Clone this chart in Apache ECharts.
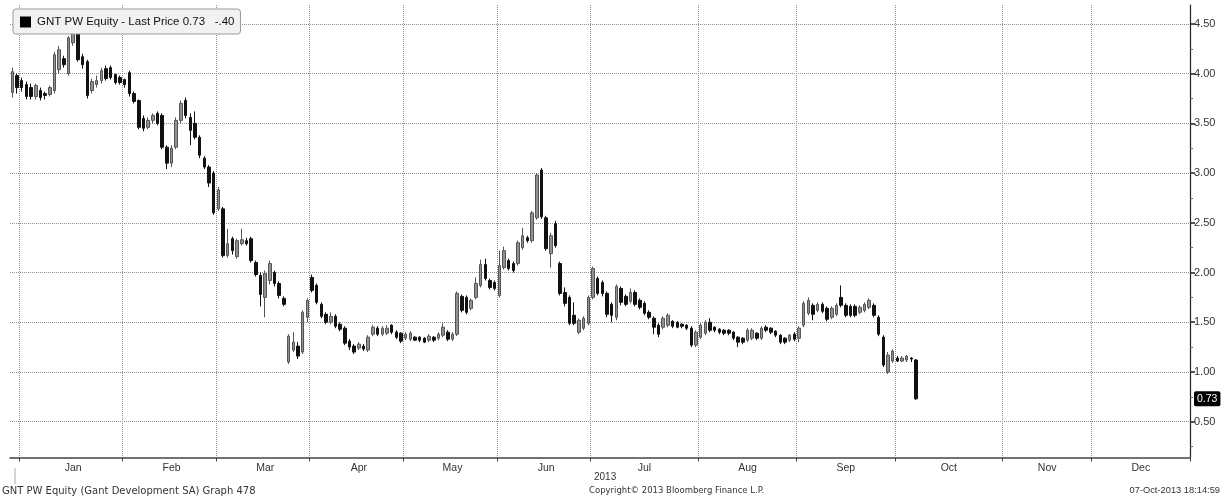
<!DOCTYPE html>
<html><head><meta charset="utf-8">
<script src="https://cdn.jsdelivr.net/npm/echarts@6/dist/echarts.min.js"></script>
<style>html,body{margin:0;padding:0;background:#fff}#c{width:1222px;height:497px}</style>
</head><body><div id="c"></div>
<script>
// ---- axis categories (trading days) ----
const leadDays = ['Dec 28', 'Dec 31'];
const monthNames = ['Jan','Feb','Mar','Apr','May','Jun','Jul','Aug','Sep','Oct','Nov','Dec'];
const tradingDaysPerMonth = [22,20,20,20,20,20,23,21,21,23,19,21];
const yearLabel = '2013';

// ---- price data (daily OHLC) ----
const opens = [
 3.81,3.98,3.93,3.89,3.86,3.77,3.83,3.80,3.79,3.83,
 4.04,4.15,4.00,4.31,4.42,4.17,4.12,3.83,3.89,3.93,
 4.05,4.06,3.99,3.96,3.94,4.01,3.80,3.73,3.55,3.46,
 3.53,3.60,3.58,3.26,3.10,3.26,3.53,3.73,3.56,3.50,
 3.36,3.15,3.06,3.00,2.64,2.64,2.17,2.34,2.16,2.29,
 2.32,2.34,2.10,1.97,1.75,1.92,2.00,1.89,1.74,1.10,
 1.22,1.26,1.20,1.55,1.95,1.87,1.68,1.58,1.50,1.56,
 1.48,1.44,1.31,1.26,1.24,1.26,1.22,1.38,1.44,1.38,
 1.39,1.47,1.40,1.39,1.34,1.33,1.35,1.35,1.34,1.32,
 1.35,1.34,1.37,1.40,1.33,1.38,1.76,1.75,1.64,1.75,
 1.87,2.08,1.92,1.90,1.77,2.05,2.12,2.09,2.09,2.25,
 2.35,2.32,2.55,3.03,2.55,2.19,2.49,2.09,1.80,1.75,
 1.57,1.40,1.44,1.49,1.75,1.94,1.90,1.79,1.68,1.55,
 1.84,1.76,1.71,1.80,1.72,1.69,1.60,1.54,1.47,1.45,
 1.47,1.51,1.50,1.48,1.47,1.44,1.27,1.35,1.39,1.50,
 1.45,1.43,1.42,1.42,1.40,1.35,1.34,1.32,1.34,1.39,
 1.34,1.45,1.44,1.41,1.37,1.34,1.32,1.38,1.34,1.47,
 1.59,1.67,1.62,1.68,1.64,1.55,1.58,1.75,1.67,1.66,
 1.66,1.60,1.62,1.65,1.67,1.55,1.35,1.00,1.11,1.14,
 1.11,1.12,1.14,1.12
];
const closes = [
 4.02,3.86,3.86,3.77,3.77,3.88,3.76,3.78,3.86,4.19,
 4.24,4.09,4.36,4.42,4.14,4.09,3.78,3.92,3.93,4.03,
 3.95,3.96,3.91,3.91,3.89,3.80,3.72,3.46,3.45,3.53,
 3.58,3.50,3.26,3.10,3.25,3.53,3.70,3.58,3.43,3.36,
 3.18,3.06,2.90,2.60,2.83,2.17,2.29,2.22,2.32,2.33,
 2.29,2.12,1.98,1.78,1.99,2.09,1.89,1.77,1.68,1.36,
 1.30,1.16,1.60,1.72,1.82,1.70,1.56,1.50,1.56,1.46,
 1.43,1.29,1.25,1.20,1.28,1.23,1.35,1.45,1.38,1.44,
 1.44,1.40,1.35,1.31,1.38,1.39,1.32,1.32,1.30,1.36,
 1.32,1.38,1.45,1.33,1.38,1.79,1.62,1.60,1.72,1.89,
 2.08,1.94,1.85,1.84,2.07,2.22,2.04,2.02,2.30,2.37,
 2.32,2.60,2.98,2.56,2.24,2.37,2.27,1.79,1.69,1.49,
 1.49,1.52,1.54,1.75,2.04,1.79,1.79,1.58,1.57,1.86,
 1.70,1.68,1.80,1.68,1.65,1.59,1.55,1.45,1.38,1.54,
 1.57,1.46,1.45,1.46,1.44,1.27,1.40,1.47,1.50,1.42,
 1.42,1.40,1.39,1.39,1.34,1.30,1.30,1.42,1.42,1.34,
 1.44,1.42,1.40,1.37,1.30,1.30,1.37,1.33,1.44,1.69,
 1.72,1.58,1.68,1.61,1.53,1.64,1.67,1.67,1.57,1.57,
 1.57,1.65,1.68,1.72,1.57,1.38,1.07,1.17,1.21,1.11,
 1.14,1.16,1.13,0.73
];
const lows = [
 3.76,3.80,3.82,3.74,3.74,3.74,3.73,3.74,3.77,3.80,
 4.00,4.06,3.98,4.28,4.12,4.05,3.75,3.80,3.86,3.90,
 3.93,3.94,3.89,3.89,3.86,3.77,3.70,3.44,3.42,3.44,
 3.50,3.48,3.24,3.04,3.06,3.24,3.50,3.55,3.28,3.34,
 3.15,3.04,2.86,2.58,2.62,2.15,2.15,2.18,2.14,2.27,
 2.27,2.10,1.96,1.66,1.55,1.88,1.86,1.74,1.66,1.08,
 1.20,1.13,1.18,1.50,1.80,1.68,1.54,1.48,1.48,1.44,
 1.41,1.27,1.22,1.18,1.22,1.21,1.20,1.36,1.36,1.36,
 1.37,1.38,1.33,1.29,1.32,1.31,1.31,1.30,1.29,1.30,
 1.30,1.32,1.35,1.31,1.31,1.36,1.60,1.58,1.62,1.73,
 1.85,1.92,1.83,1.82,1.75,2.03,2.02,2.00,2.07,2.23,
 2.30,2.30,2.53,2.54,2.22,2.05,2.25,1.77,1.66,1.47,
 1.47,1.38,1.42,1.47,1.73,1.77,1.76,1.55,1.50,1.52,
 1.67,1.66,1.69,1.66,1.63,1.57,1.53,1.38,1.35,1.43,
 1.45,1.44,1.44,1.44,1.42,1.25,1.25,1.33,1.37,1.40,
 1.40,1.38,1.37,1.37,1.32,1.25,1.28,1.30,1.32,1.32,
 1.32,1.40,1.38,1.35,1.28,1.28,1.30,1.31,1.30,1.45,
 1.57,1.52,1.60,1.59,1.51,1.53,1.56,1.65,1.55,1.55,
 1.55,1.58,1.60,1.63,1.55,1.36,1.05,0.98,1.09,1.10,
 1.10,1.10,1.10,0.72
];
const highs = [
 4.06,4.00,3.96,3.92,3.90,3.90,3.86,3.82,3.88,4.22,
 4.28,4.18,4.38,4.47,4.52,4.20,4.14,3.95,3.98,4.06,
 4.08,4.08,4.00,3.98,3.95,4.03,3.82,3.74,3.58,3.56,
 3.60,3.62,3.60,3.28,3.28,3.56,3.73,3.76,3.60,3.62,
 3.38,3.17,3.08,3.02,2.86,2.66,2.44,2.36,2.34,2.44,
 2.35,2.36,2.12,2.00,2.02,2.12,2.02,1.91,1.76,1.38,
 1.40,1.30,1.62,1.74,1.98,1.89,1.70,1.60,1.60,1.58,
 1.50,1.46,1.33,1.28,1.30,1.28,1.37,1.47,1.46,1.46,
 1.47,1.48,1.42,1.40,1.40,1.41,1.36,1.36,1.35,1.38,
 1.36,1.40,1.49,1.42,1.40,1.81,1.78,1.77,1.74,1.95,
 2.13,2.14,1.94,1.92,2.22,2.26,2.14,2.11,2.32,2.45,
 2.37,2.62,3.00,3.05,2.57,2.40,2.52,2.11,1.85,1.77,
 1.70,1.54,1.56,1.77,2.06,1.96,1.92,1.81,1.70,1.88,
 1.86,1.78,1.84,1.82,1.74,1.71,1.62,1.56,1.49,1.56,
 1.59,1.52,1.51,1.49,1.48,1.46,1.42,1.49,1.52,1.54,
 1.46,1.44,1.43,1.43,1.41,1.36,1.35,1.44,1.44,1.40,
 1.46,1.47,1.45,1.42,1.38,1.35,1.38,1.40,1.46,1.71,
 1.75,1.69,1.70,1.70,1.66,1.66,1.69,1.87,1.69,1.68,
 1.68,1.67,1.70,1.74,1.69,1.57,1.37,1.20,1.23,1.16,
 1.16,1.17,1.15,1.13
];
const yTickValues = [0.5,1.0,1.5,2.0,2.5,3.0,3.5,4.0,4.5];
const yMinorTickValues = [0.25,0.75,1.25,1.75,2.25,2.75,3.25,3.75,4.25];
const lastPrice = 0.73;
const priceChange = '-.40';
const seriesName = 'GNT PW Equity';

// ---- build categories ----
const categories = leadDays.slice();
const monthStartIdx = {};
const monthMidIdx = {};
monthNames.forEach((m, k) => {
  const start = categories.length;
  const n = tradingDaysPerMonth[k];
  monthStartIdx[start] = m;
  monthMidIdx[start + Math.floor(n / 2)] = m;
  for (let d = 1; d <= n; d++) categories.push(m + ' ' + d);
});
const ohlc = opens.map((o, i) => [o, closes[i], lows[i], highs[i]]);

const FONT = 'Liberation Sans';
const chart = echarts.init(document.getElementById('c'), null, {renderer: 'canvas'});
chart.setOption({
  animation: false,
  backgroundColor: '#ffffff',
  grid: {left: 10, right: 32, top: 5, bottom: 39.5, containLabel: false},
  legend: {
    left: 13, top: 9,
    data: [{name: seriesName, icon: 'rect', itemStyle: {color: '#000', borderColor: '#000'}}],
    itemWidth: 9, itemHeight: 9, itemGap: 0,
    padding: [7, 6, 6, 7],
    backgroundColor: '#f2f2f2', borderColor: '#9a9a9a', borderWidth: 1, borderRadius: 3,
    selectedMode: false,
    textStyle: {fontFamily: FONT, fontSize: 11.5, color: '#111', padding: [0, 0, 0, 2]},
    formatter: name => name + ' - Last Price ' + lastPrice.toFixed(2) + '   ' + priceChange
  },
  xAxis: {
    type: 'category',
    data: categories,
    boundaryGap: true,
    axisLine: {show: true, lineStyle: {color: '#444', width: 1.5}},
    axisTick: {show: true, interval: (i) => (i in monthStartIdx), length: 4, lineStyle: {color: '#444'}},
    axisLabel: {
      interval: (i) => (i in monthMidIdx),
      formatter: (v) => v.split(' ')[0],
      fontFamily: FONT, fontSize: 10.5, color: '#333', margin: 5
    },
    splitLine: {show: true, interval: (i) => (i in monthStartIdx), lineStyle: {type: 'dotted', color: '#8f8f8f', width: 1}}
  },
  yAxis: [{
    type: 'value', position: 'right', min: 0.14, max: 4.69, scale: true,
    axisLine: {show: true, lineStyle: {color: '#222', width: 1.2}},
    axisTick: {show: true, customValues: yTickValues, length: 5, lineStyle: {color: '#222', width: 1.5}},
    axisLabel: {customValues: yTickValues, formatter: (v) => v.toFixed(2), fontFamily: FONT, fontSize: 11, color: '#333', margin: 4},
    splitLine: {show: true, lineStyle: {type: 'dotted', color: '#8f8f8f', width: 1}}
  }, {
    type: 'value', position: 'right', min: 0.14, max: 4.69,
    axisLine: {show: false},
    axisTick: {show: true, customValues: yMinorTickValues, length: 3, lineStyle: {color: '#666'}},
    axisLabel: {show: false},
    splitLine: {show: false}
  }],
  series: [{
    name: seriesName,
    type: 'candlestick',
    data: ohlc,
    barWidth: 3,
    itemStyle: {color: '#909090', color0: '#111111', borderColor: '#555555', borderColor0: '#111111', borderWidth: 1},
    markLine: {
      silent: true, symbol: ['none', 'none'],
      lineStyle: {color: 'rgba(0,0,0,0)', width: 0},
      label: {show: true, position: 'end', formatter: lastPrice.toFixed(2), backgroundColor: '#000', color: '#fff',
              fontFamily: FONT, fontSize: 10.5, padding: [2, 3, 2, 3], borderRadius: 2, distance: 4},
      data: [{yAxis: lastPrice}]
    }
  }],
  graphic: [
    {type: 'text', left: 594, top: 472, style: {text: yearLabel, font: '10px ' + FONT, fill: '#333'}},
    {type: 'line', shape: {x1: 15, y1: 468, x2: 15, y2: 484}, style: {stroke: '#aaa', lineWidth: 1}},
    {type: 'text', left: 2, top: 486, style: {text: 'GNT PW Equity (Gant Development SA) Graph 478', font: '10px DejaVu Sans', fill: '#333'}},
    {type: 'text', left: 589, top: 486, style: {text: 'Copyright\u00a9 2013 Bloomberg Finance L.P.', font: '8.5px DejaVu Sans', fill: '#333'}},
    {type: 'text', right: 2, top: 486, style: {text: '07-Oct-2013 18:14:59', font: '9.3px ' + FONT, fill: '#333'}}
  ]
});
</script>
</body></html>
